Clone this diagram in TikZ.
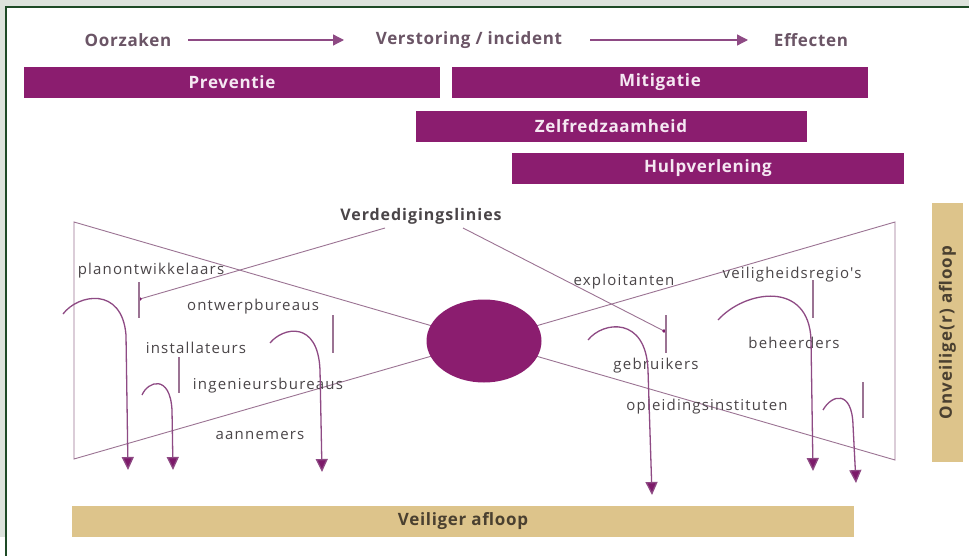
\documentclass[tikz,border=0pt]{standalone}
\usepackage{fontspec}
\setmainfont{Open Sans}
\newfontfamily\spacedfont[LetterSpace=8]{Open Sans}
\newfontfamily\boldspaced[LetterSpace=4]{Open Sans}
\newfontfamily\wideboldspaced[LetterSpace=6]{Open Sans}
\usetikzlibrary{arrows.meta,shapes.geometric}
\definecolor{bggray}{HTML}{DDE3DC}
\definecolor{framegreen}{HTML}{1E4A26}
\definecolor{barpurple}{HTML}{8B1D6F}
\definecolor{bartext}{HTML}{F5E8F2}
\definecolor{titlecol}{HTML}{6B5566}
\definecolor{arrowpurple}{HTML}{7D1A6A}
\definecolor{curvecol}{HTML}{8E4A84}
\definecolor{linecol}{HTML}{9B7393}
\definecolor{labelcol}{HTML}{4A4548}
\definecolor{tan}{HTML}{DDC48B}
\definecolor{tantext}{HTML}{4A4030}
\tikzset{
  x=1pt, y=-1pt,
  titletext/.style={font=\boldspaced\fontsize{17}{20}\selectfont\bfseries, text=titlecol, inner sep=0pt},
  titlearrow/.style={draw=curvecol, line width=1.3pt, -{Triangle[width=11pt,length=11pt]}},
  phasebar/.style={fill=barpurple, draw=none, inner sep=0pt, text=bartext, font=\boldspaced\fontsize{17}{20}\selectfont\bfseries},
  label/.style={font=\spacedfont\fontsize{15}{17}\selectfont, text=labelcol, inner sep=0pt},
  bowline/.style={draw=linecol, line width=0.9pt},
  ticks/.style={draw=linecol, line width=1.1pt},
  hook/.style={draw=curvecol, line width=1.3pt, -{Triangle[width=12pt,length=13pt,fill=arrowpurple]}},
  tanbar/.style={fill=tan, draw=none, inner sep=0pt, text=tantext, font=\boldspaced\fontsize{17}{20}\selectfont\bfseries},
}
\begin{document}
\begin{tikzpicture}
\useasboundingbox (0,0) rectangle (969,556);
% frame
\fill[white] (0,0) rectangle (969,556);
\fill[bggray] (0,0) rectangle (969,7);
\fill[bggray] (0,0) rectangle (6,537);
\draw[framegreen, line width=1.2pt] (6,556) -- (6,7) -- (969,7);

% title row
\node[titletext] (oorz) at (128,40) {Oorzaken};
\node[titletext] (verst) at (469,40) {Verstoring / incident};
\node[titletext] (eff) at (811,40) {Effecten};
\coordinate (a1s) at (188,40); \coordinate (a1e) at (344,40);
\coordinate (a2s) at (590,40); \coordinate (a2e) at (748,40);
\draw[titlearrow] (a1s) -- (a1e);
\draw[titlearrow] (a2s) -- (a2e);

% phase bars
\node[phasebar, minimum width=416pt, minimum height=31pt] (prev) at (232,82.5) {Preventie};
\node[phasebar, minimum width=416pt, minimum height=31pt] (mitig) at (660,82.5) {Mitigatie};
\node[phasebar, minimum width=391pt, minimum height=31pt] (zelf) at (611,126.5) {Zelfredzaamheid};
\node[phasebar, minimum width=392pt, minimum height=31pt] (hulp) at (708,168.5) {Hulpverlening};

% bow tie
\coordinate (TL) at (74,222);
\coordinate (BL) at (74,459);
\coordinate (TR) at (895,222);
\coordinate (BR) at (895,460);
\coordinate (ec) at (484,341);
\draw[bowline] (ec) -- (TL) -- (BL) -- (ec);
\draw[bowline] (ec) -- (TR) -- (BR) -- (ec);
\node[ellipse, fill=barpurple, draw=none, minimum width=115pt, minimum height=83pt, inner sep=0pt] (event) at (ec) {};

% defence lines
\node[label, font=\wideboldspaced\fontsize{16}{19}\selectfont\bfseries] (verd) at (421,216) {Verdedigingslinies};
\coordinate (v1s) at (385,228);
\coordinate (v1e) at (140,299);
\coordinate (v2s) at (463,228);
\coordinate (v2e) at (664,331);
\draw[bowline] (v1s) -- (v1e);
\draw[bowline] (v2s) -- (v2e);
\fill[arrowpurple] (v1e) circle (1.8pt);
\fill[arrowpurple] (v2e) circle (1.8pt);

% barrier ticks
\coordinate (t1a) at (139,282); \coordinate (t1b) at (139,318);
\coordinate (t2a) at (333,315); \coordinate (t2b) at (333,353);
\coordinate (t3a) at (179,357); \coordinate (t3b) at (179,393);
\coordinate (t4a) at (666,315); \coordinate (t4b) at (666,353);
\coordinate (t5a) at (813,280); \coordinate (t5b) at (813,318);
\coordinate (t6a) at (863,382); \coordinate (t6b) at (863,418);
\draw[ticks] (t1a) -- (t1b);
\draw[ticks] (t2a) -- (t2b);
\draw[ticks] (t3a) -- (t3b);
\draw[ticks] (t4a) -- (t4b);
\draw[ticks] (t5a) -- (t5b);
\draw[ticks] (t6a) -- (t6b);

% labels
\node[label] (plan) at (151,271) {planontwikkelaars};
\node[label] (ontw) at (253,307) {ontwerpbureaus};
\node[label] (inst) at (196,348) {installateurs};
\node[label] (ing) at (268,386) {ingenieursbureaus};
\node[label] (aann) at (260,435) {aannemers};
\node[label] (expl) at (624,282) {exploitanten};
\node[label] (veil) at (792,275) {veiligheidsregio's};
\node[label] (gebr) at (656,366) {gebruikers};
\node[label] (beh) at (794,343) {beheerders};
\node[label] (opl) at (707,407) {opleidingsinstituten};

% hook arrows
\coordinate (h1s) at (63,314);  \coordinate (h1t) at (128,470);
\coordinate (h2s) at (142,395); \coordinate (h2t) at (173,470);
\coordinate (h3s) at (270,343); \coordinate (h3t) at (322,472);
\coordinate (h4s) at (588,340); \coordinate (h4t) at (652,495);
\coordinate (h5s) at (718,320); \coordinate (h5t) at (813,471);
\coordinate (h6s) at (823,410); \coordinate (h6t) at (856,483);
\draw[hook] (h1s) .. controls (78,294) and (122,286) .. (126,335) -- (h1t);
\draw[hook] (h2s) .. controls (148,381) and (170,374) .. (172,410) -- (h2t);
\draw[hook] (h3s) .. controls (283,327) and (318,320) .. (320,370) -- (h3t);
\draw[hook] (h4s) .. controls (603,321) and (646,316) .. (648,370) -- (h4t);
\draw[hook] (h5s) .. controls (745,290) and (809,280) .. (811,340) -- (h5t);
\draw[hook] (h6s) .. controls (832,394) and (852,390) .. (853,425) -- (h6t);

% outcome bars
\node[tanbar, minimum width=782pt, minimum height=31pt] (safe) at (463,521.5) {Veiliger afloop};
\node[tanbar, minimum width=31pt, minimum height=259pt] (unsafe) at (947.5,332.5) {};
\node[tanbar, rotate=90, font=\wideboldspaced\fontsize{17}{20}\selectfont\bfseries] (unsafetxt) at (unsafe.center) {Onveilige(r) afloop};
\end{tikzpicture}
\end{document}
